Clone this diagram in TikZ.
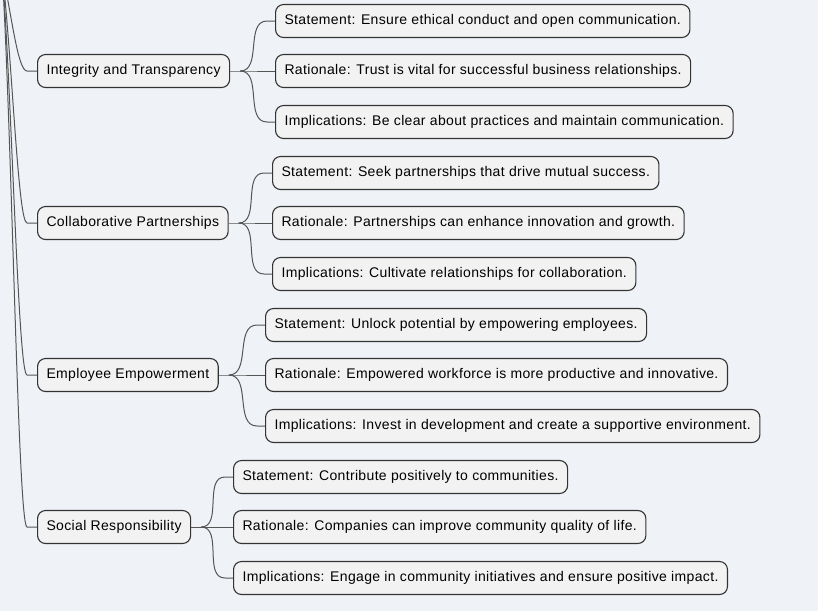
\documentclass[tikz,border=0pt]{standalone}
\usepackage{fontspec}
\setmainfont[LetterSpace=2.5]{Liberation Sans}
\usetikzlibrary{positioning}

\definecolor{fondo}{HTML}{EFF3F8}
\definecolor{relleno}{HTML}{F2F2F2}
\definecolor{borde}{HTML}{333333}
\definecolor{linea}{HTML}{555555}

\tikzset{
  tema/.style={draw=borde, fill=relleno, line width=1.1pt, rounded corners=8pt,
    minimum height=33pt, inner xsep=9pt, anchor=west,
    font=\fontsize{14}{16}\selectfont},
  rama/.style={draw=linea, line width=1pt},
}

\begin{document}
\begin{tikzpicture}[x=1pt,y=-1pt]
    \fill[fondo] (0,0) rectangle (818,611);
    \useasboundingbox (0,0) rectangle (818,611);

    \coordinate (raiz) at (2,-30);

    % categorias
    \node[tema] (int) at (37,71) {Integrity and Transparency};
    \node[tema] (col) at (37,223) {Collaborative Partnerships};
    \node[tema] (emp) at (37,375) {Employee Empowerment};
    \node[tema] (soc) at (37,527) {Social Responsibility};

    % hojas
    \node[tema] (int1) at (275,21) {Statement: Ensure ethical conduct and open communication.};
    \node[tema] (int2) at (275,71) {Rationale: Trust is vital for successful business relationships.};
    \node[tema] (int3) at (275,122) {Implications: Be clear about practices and maintain communication.};

    \node[tema] (col1) at (272,173) {Statement: Seek partnerships that drive mutual success.};
    \node[tema] (col2) at (272,223) {Rationale: Partnerships can enhance innovation and growth.};
    \node[tema] (col3) at (272,274) {Implications: Cultivate relationships for collaboration.};

    \node[tema] (emp1) at (265,325) {Statement: Unlock potential by empowering employees.};
    \node[tema] (emp2) at (265,375) {Rationale: Empowered workforce is more productive and innovative.};
    \node[tema] (emp3) at (265,426) {Implications: Invest in development and create a supportive environment.};

    \node[tema] (soc1) at (233,477) {Statement: Contribute positively to communities.};
    \node[tema] (soc2) at (233,527) {Rationale: Companies can improve community quality of life.};
    \node[tema] (soc3) at (233,578) {Implications: Engage in community initiatives and ensure positive impact.};

    % ramas desde la raiz
    \draw[rama] (raiz) .. controls (12,18) and (18,71) .. (27,71) -- (int.west);
    \draw[rama] (raiz) .. controls (12,56) and (18,223) .. (27,223) -- (col.west);
    \draw[rama] (raiz) .. controls (12,94) and (18,375) .. (27,375) -- (emp.west);
    \draw[rama] (raiz) .. controls (12,132) and (18,527) .. (27,527) -- (soc.west);

    % puntos de division
    \coordinate (int-d) at ([xshift=10pt]int.east);
    \coordinate (col-d) at ([xshift=10pt]col.east);
    \coordinate (emp-d) at ([xshift=10pt]emp.east);
    \coordinate (soc-d) at ([xshift=10pt]soc.east);

    \draw[rama] (int.east) -- (int-d) -- (int2.west);
    \draw[rama] (int-d) to[out=0,in=180] ([xshift=-8pt]int1.west) -- (int1.west);
    \draw[rama] (int-d) to[out=0,in=180] ([xshift=-8pt]int3.west) -- (int3.west);

    \draw[rama] (col.east) -- (col-d) -- (col2.west);
    \draw[rama] (col-d) to[out=0,in=180] ([xshift=-8pt]col1.west) -- (col1.west);
    \draw[rama] (col-d) to[out=0,in=180] ([xshift=-8pt]col3.west) -- (col3.west);

    \draw[rama] (emp.east) -- (emp-d) -- (emp2.west);
    \draw[rama] (emp-d) to[out=0,in=180] ([xshift=-8pt]emp1.west) -- (emp1.west);
    \draw[rama] (emp-d) to[out=0,in=180] ([xshift=-8pt]emp3.west) -- (emp3.west);

    \draw[rama] (soc.east) -- (soc-d) -- (soc2.west);
    \draw[rama] (soc-d) to[out=0,in=180] ([xshift=-8pt]soc1.west) -- (soc1.west);
    \draw[rama] (soc-d) to[out=0,in=180] ([xshift=-8pt]soc3.west) -- (soc3.west);
\end{tikzpicture}
\end{document}
